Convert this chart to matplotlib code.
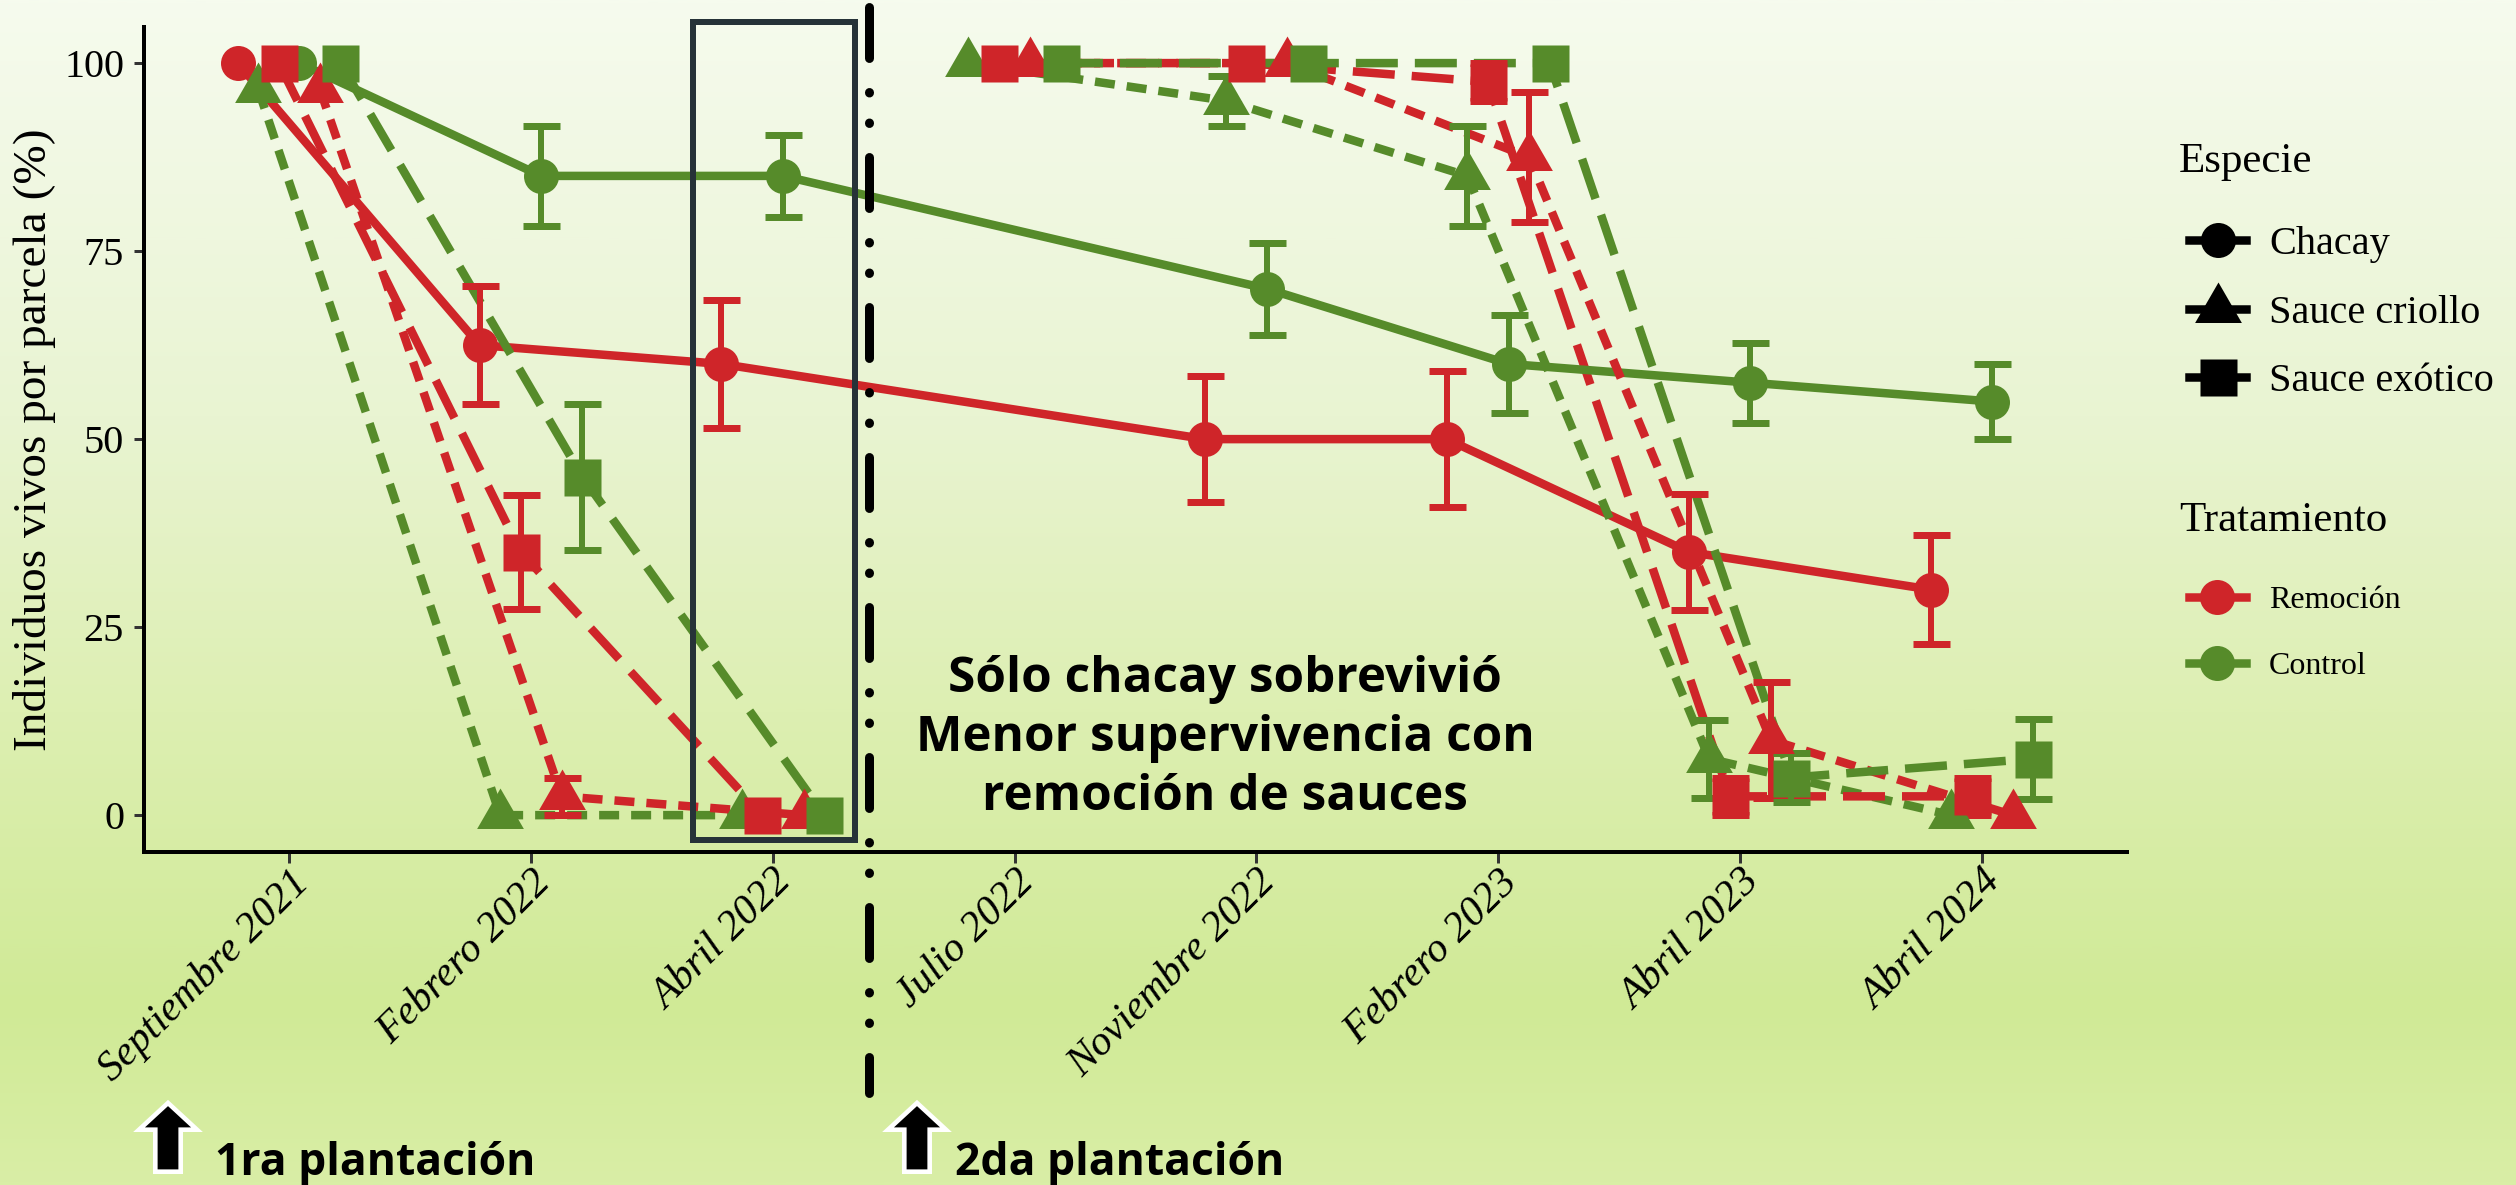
import numpy as np
import matplotlib
matplotlib.use("Agg")
import matplotlib.pyplot as plt
from matplotlib import patheffects
from matplotlib.colors import LinearSegmentedColormap
from matplotlib.lines import Line2D
from matplotlib.patches import Rectangle, FancyArrow
from matplotlib.transforms import IdentityTransform, ScaledTranslation

nan = np.nan

# ---- data ----
fechas = ["Septiembre 2021", "Febrero 2022", "Abril 2022", "Julio 2022",
          "Noviembre 2022", "Febrero 2023", "Abril 2023", "Abril 2024"]

chacay_rem = [100, 62.5, 60, nan, 50, 50, 35, 30]
chacay_rem_se = [0, 7.8, 8.5, nan, 8.4, 9.0, 7.7, 7.3]
chacay_con = [100, 85, 85, nan, 70, 60, 57.5, 55]
chacay_con_se = [0, 6.7, 5.5, nan, 6.1, 6.5, 5.3, 5.0]

criollo_rem = [96.5, 2.5, 0, 100, 100, 87.5, 10, 0]
criollo_rem_se = [0, 2.5, 0, 0, 0, 8.6, 7.7, 0]
criollo_con = [96.5, 0, 0, 100, 95, 85, 7.5, 0]
criollo_con_se = [0, 0, 0, 0, 3.3, 6.7, 5.2, 0]

exotico_rem = [100, 35, 0, 100, 100, 97.5, 2.5, 2.5]
exotico_rem_se = [0, 7.6, 0, 0, 0, 2.5, 2.5, 2.5]
exotico_con = [100, 45, 0, 100, 100, 100, 5, 7.5]
exotico_con_se = [0, 9.7, 0, 0, 0, 0, 3.3, 5.3]

tramos_sauce = [(0, 3), (3, 8)]  # two plantings, not joined

RED = "#CF2529"
GREEN = "#568B2A"

SERIF = "Liberation Serif"
BOLD_SANS = "Open Sans"
plt.rcParams["font.family"] = SERIF
plt.rcParams["lines.scale_dashes"] = False

PX = 72 / 200  # pixels -> points at 200 dpi
W, H, DPI = 2516, 1185, 200

tri = [(0, 1), (-0.866, -0.5), (0.866, -0.5)]  # centroid-centred triangle
estilos = {
    "Chacay": dict(marker="o", ms=35 * PX, ls="-", z=4),
    "Sauce criollo": dict(marker=tri, ms=54 * PX, ls=(0, (20 * PX, 12 * PX)), z=4.5),
    "Sauce exótico": dict(marker="s", ms=37 * PX, ls=(0, (42 * PX, 17 * PX)), z=4.5),
}
colores = {"Remoción": RED, "Control": GREEN}

series = {
    ("Remoción", "Chacay"): (chacay_rem, chacay_rem_se),
    ("Control", "Sauce criollo"): (criollo_con, criollo_con_se),
    ("Remoción", "Sauce exótico"): (exotico_rem, exotico_rem_se),
    ("Control", "Chacay"): (chacay_con, chacay_con_se),
    ("Remoción", "Sauce criollo"): (criollo_rem, criollo_rem_se),
    ("Control", "Sauce exótico"): (exotico_con, exotico_con_se),
}
orden = list(series.keys())

# dodge positions (like position_dodge)
DODGE = 0.51
xpos = {k: np.full(len(fechas), nan) for k in orden}
for i in range(len(fechas)):
    presentes = [k for k in orden if not np.isnan(series[k][0][i])]
    n = len(presentes)
    for j, k in enumerate(presentes):
        xpos[k][i] = i + (j - (n - 1) / 2) * DODGE / n

fig = plt.figure(figsize=(W / DPI, H / DPI), dpi=DPI)

# background gradient
bg = fig.add_axes([0, 0, 1, 1], zorder=-10)
cmap = LinearSegmentedColormap.from_list(
    "fondo", [(0.0, "#F6FBEE"), (0.35, "#E9F4D2"), (0.6, "#DDEFB2"),
              (0.85, "#D0EA96"), (1.0, "#D9EEA6")])
bg.imshow(np.linspace(0, 1, 512).reshape(-1, 1), aspect="auto", cmap=cmap,
          extent=[0, 1, 0, 1], origin="upper")
bg.axis("off")

ax = fig.add_axes([144 / W, 1 - 852 / H, (2127 - 144) / W, (852 - 27) / H])
ax.set_facecolor("none")

LW = 8.5 * PX
for k in orden:
    trat, esp = k
    vals, se = series[k]
    vals = np.array(vals, float)
    se = np.array(se, float)
    x = xpos[k]
    c = colores[trat]
    st = estilos[esp]
    tramos = [(0, len(fechas))] if esp == "Chacay" else tramos_sauce
    for a, b in tramos:
        xs, ys = x[a:b], vals[a:b]
        ok = ~np.isnan(ys)
        ax.plot(xs[ok], ys[ok], color=c, lw=LW, ls=st["ls"], zorder=2,
                solid_capstyle="butt", dash_capstyle="butt")
    m = (~np.isnan(vals)) & (np.nan_to_num(se) > 0)
    ax.errorbar(x[m], vals[m], yerr=se[m], fmt="none", ecolor=c,
                elinewidth=6 * PX, capsize=18.5 * PX, capthick=7 * PX, zorder=3)
    ok = ~np.isnan(vals)
    ax.plot(x[ok], vals[ok], ls="none", marker=st["marker"], ms=st["ms"],
            color=c, mec="none", zorder=st["z"])

ax.set_xlim(-0.6, len(fechas) - 0.4)
ax.set_ylim(-4.9, 104.8)
ax.set_xticks(range(len(fechas)))
ax.set_xticklabels(fechas, rotation=45, ha="right", va="top",
                   rotation_mode="anchor", fontsize=15, style="italic")
shift = ScaledTranslation(16 / DPI, 6 / DPI, fig.dpi_scale_trans)
for lab in ax.get_xticklabels():
    lab.set_transform(lab.get_transform() + shift)
ax.set_yticks([0, 25, 50, 75, 100])
ax.tick_params(axis="y", labelsize=14.5, length=10 * PX, width=3 * PX,
               color="#333333", pad=10 * PX)
ax.tick_params(axis="x", length=11 * PX, width=3 * PX, color="#333333", pad=0)
for s in ["top", "right"]:
    ax.spines[s].set_visible(False)
for s in ["left", "bottom"]:
    ax.spines[s].set_linewidth(4 * PX)
ax.set_ylabel("Individuos vivos por parcela (%)", fontsize=17)
ax.yaxis.set_label_coords(-(144 - 56) / (2127 - 144), 0.5)

# highlight box around Abril 2022 and separator between plantings
ax.add_patch(Rectangle((1.669, -3.3), 0.67, 108.8, fill=False,
                       ec="#263238", lw=6 * PX, clip_on=False, zorder=5))
sep = Line2D([2.4, 2.4], [1.024, -0.292], transform=ax.get_xaxis_transform(),
             color="black", lw=9 * PX, solid_capstyle="round",
             dash_capstyle="round",
             ls=(0, (51 * PX, 34 * PX, 0.5 * PX, 30 * PX, 0.5 * PX, 34 * PX)),
             clip_on=False, zorder=6)
ax.add_line(sep)

ax.text(3.87, 10.2, "Sólo chacay sobrevivió\nMenor supervivencia con\nremoción de sauces",
        ha="center", va="center", fontsize=17.8, fontweight="bold",
        family=BOLD_SANS, linespacing=1.27, zorder=7)

# legends (titles drawn as figure text for exact spacing)
fig.text(2179 / W, 1 - 162 / H, "Especie", fontsize=15.5, va="center", ha="left")
hand_esp = [Line2D([], [], color="black", lw=LW, marker=estilos[e]["marker"],
                   ms=estilos[e]["ms"], mec="none")
            for e in ["Chacay", "Sauce criollo", "Sauce exótico"]]
fig.legend(hand_esp, ["Chacay", "Sauce criollo", "Sauce exótico"],
           loc="upper left", bbox_to_anchor=(2189 / W, 1 - 226 / H),
           frameon=False, fontsize=14.5, handlelength=1.42,
           handletextpad=0.57, labelspacing=0.78, borderpad=0, borderaxespad=0)

fig.text(2179 / W, 1 - 521 / H, "Tratamiento", fontsize=15.5, va="center", ha="left")
hand_trat = [Line2D([], [], color=colores[t], lw=LW, marker="o",
                    ms=35 * PX, mec="none") for t in ["Remoción", "Control"]]
fig.legend(hand_trat, ["Remoción", "Control"], loc="upper left",
           bbox_to_anchor=(2189 / W, 1 - 586 / H), frameon=False,
           fontsize=11.5, handlelength=1.78, handletextpad=0.72,
           labelspacing=1.15, borderpad=0, borderaxespad=0)

# planting arrows and labels (pixel coords, origin bottom-left)
for xc, txt_x, txt in [(168, 215, "1ra plantación"), (917, 955, "2da plantación")]:
    arr = FancyArrow(xc, H - 1168, 0, 60, width=18, head_width=39,
                     head_length=18, length_includes_head=True,
                     transform=IdentityTransform(), color="black", zorder=8)
    arr.set_path_effects([patheffects.withStroke(linewidth=12 * PX, foreground="white")])
    fig.add_artist(arr)
    fig.text(txt_x / W, 1 - 1175 / H, txt, ha="left", va="baseline",
             fontsize=16, fontweight="bold", family=BOLD_SANS)

fig.savefig("out.png", dpi=DPI)
